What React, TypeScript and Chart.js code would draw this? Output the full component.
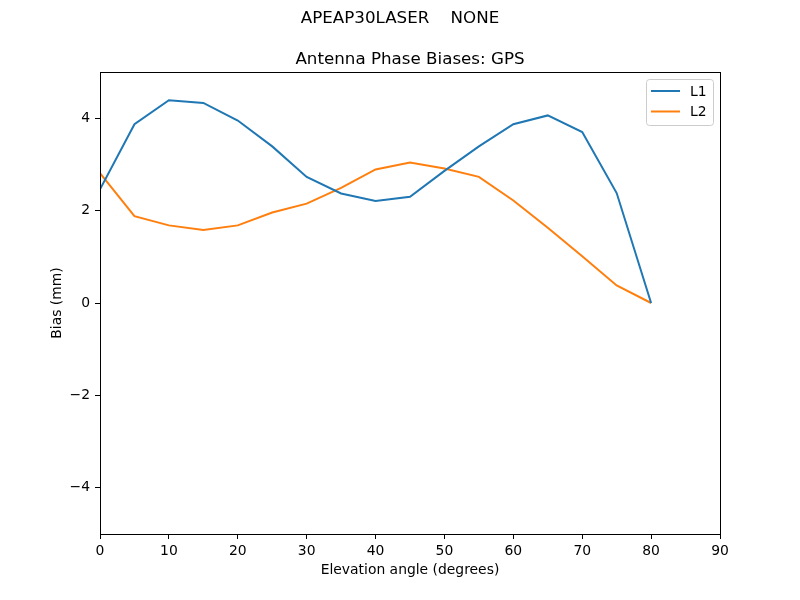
import React, { useRef, useEffect } from 'react';
import { Chart, registerables } from 'chart.js';

Chart.register(...registerables);

// elevation angle (degrees)
const elevations = [0, 5, 10, 15, 20, 25, 30, 35, 40, 45, 50, 55, 60, 65, 70, 75, 80];
// bias (mm)
const l1Bias = [2.46, 3.87, 4.39, 4.33, 3.95, 3.39, 2.73, 2.37, 2.21, 2.30, 2.86, 3.39, 3.87, 4.06, 3.70, 2.38, 0.0];
const l2Bias = [2.81, 1.88, 1.68, 1.58, 1.68, 1.96, 2.15, 2.49, 2.89, 3.04, 2.91, 2.73, 2.22, 1.63, 1.01, 0.38, 0.0];
const xTicks = [0, 10, 20, 30, 40, 50, 60, 70, 80, 90];
const yTicks = [-4, -2, 0, 2, 4];

const suptitle = 'APEAP30LASER    NONE';
const title = 'Antenna Phase Biases: GPS';
const xLabel = 'Elevation angle (degrees)';
const yLabel = 'Bias (mm)';

const FONT = '"DejaVu Sans", sans-serif';

export default function App() {
  const ref = useRef<HTMLCanvasElement>(null);
  const chartRef = useRef<Chart | null>(null);

  useEffect(() => {
    document.body.style.margin = '0';
    const canvas = ref.current;
    if (!canvas) return;
    chartRef.current?.destroy();

    chartRef.current = new Chart(canvas, {
      type: 'line',
      data: {
        datasets: [
          {
            label: 'L1',
            data: elevations.map((x, i) => ({ x, y: l1Bias[i] })),
            borderColor: '#1f77b4',
            borderWidth: 2,
            pointRadius: 0,
            tension: 0,
          },
          {
            label: 'L2',
            data: elevations.map((x, i) => ({ x, y: l2Bias[i] })),
            borderColor: '#ff7f0e',
            borderWidth: 2,
            pointRadius: 0,
            tension: 0,
          },
        ],
      },
      options: {
        responsive: false,
        animation: false,
        devicePixelRatio: 1,
        layout: { padding: { left: 30, right: 80, top: 72, bottom: 0 } },
        plugins: {
          legend: { display: false },
          tooltip: { enabled: false },
          title: { display: false },
        },
        scales: {
          x: {
            type: 'linear',
            min: 0,
            max: 90,
            afterBuildTicks: (scale: any) => { scale.ticks = xTicks.map(v => ({ value: v })); },
            afterFit: (scale: any) => { scale.height = 66; },
            grid: { drawOnChartArea: false, drawTicks: true, tickLength: 5, tickColor: '#000', tickWidth: 1 },
            border: { display: true, color: '#000', width: 1 },
            ticks: { color: '#000', font: { family: FONT, size: 13.9 }, padding: 4, maxRotation: 0 },
          },
          y: {
            type: 'linear',
            min: -5,
            max: 5,
            afterBuildTicks: (scale: any) => { scale.ticks = yTicks.map(v => ({ value: v })); },
            afterFit: (scale: any) => { scale.width = 70; },
            grid: { drawOnChartArea: false, drawTicks: true, tickLength: 5, tickColor: '#000', tickWidth: 1 },
            border: { display: true, color: '#000', width: 1 },
            ticks: {
              color: '#000',
              font: { family: FONT, size: 13.9 },
              padding: 5,
              callback: (v: any) => (v < 0 ? '\u2212' + Math.abs(v) : String(v)),
            },
          },
        },
      },
      plugins: [{
        id: 'mplDecor',
        afterDraw(chart) {
          const { ctx, chartArea } = chart;
          const { left, right, top, bottom } = chartArea;
          const cx = (left + right) / 2;
          ctx.save();
          // frame
          ctx.strokeStyle = '#000';
          ctx.lineWidth = 1;
          ctx.strokeRect(Math.round(left) + 0.5, Math.round(top) + 0.5, Math.round(right - left), Math.round(bottom - top));

          ctx.fillStyle = '#000';
          ctx.textAlign = 'center';
          ctx.textBaseline = 'middle';
          ctx.font = `16.7px ${FONT}`;
          ctx.fillText(suptitle, 400, 19);
          ctx.fillText(title, cx, top - 12);

          ctx.font = `13.9px ${FONT}`;
          ctx.fillText(xLabel, cx, bottom + 36);
          ctx.save();
          ctx.translate(57, (top + bottom) / 2);
          ctx.rotate(-Math.PI / 2);
          ctx.fillText(yLabel, 0, 0);
          ctx.restore();

          // legend
          const lx = right - 74, ly = top + 7, lw = 67, lh = 46;
          ctx.beginPath();
          ctx.roundRect(lx + 0.5, ly + 0.5, lw, lh, 3);
          ctx.fillStyle = 'rgba(255,255,255,0.8)';
          ctx.fill();
          ctx.strokeStyle = '#cccccc';
          ctx.stroke();
          ctx.textAlign = 'left';
          chart.data.datasets.forEach((ds: any, i: number) => {
            const y = ly + 12 + i * 20.5;
            ctx.beginPath();
            ctx.strokeStyle = ds.borderColor;
            ctx.lineWidth = 2;
            ctx.moveTo(lx + 5, y);
            ctx.lineTo(lx + 34, y);
            ctx.stroke();
            ctx.fillStyle = '#000';
            ctx.fillText(ds.label, lx + 44, y + 1);
          });
          ctx.restore();
        },
      }],
    });

    return () => { chartRef.current?.destroy(); };
  }, []);

  return <canvas ref={ref} width={800} height={600} style={{ display: 'block' }} />;
}
